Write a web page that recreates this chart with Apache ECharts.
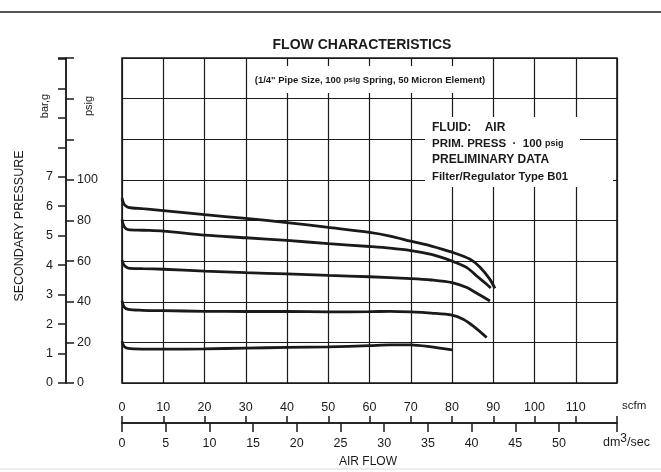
<!DOCTYPE html>
<html><head><meta charset="utf-8">
<script src="https://cdn.jsdelivr.net/npm/echarts@6/dist/echarts.min.js"></script>
<style>html,body{margin:0;padding:0;background:#fff}#c{width:661px;height:472px}</style>
</head><body><div id="c"></div>
<script>
// ---- data (air flow in scfm, secondary pressure in psig) ----
const scfmLabels = [0,10,20,30,40,50,60,70,80,90,100,110];
const dmLabels = [0,5,10,15,20,25,30,35,40,45,50];
const barLabels = [0,1,2,3,4,5,6,7];
const psigLabels = [0,20,40,60,80,100];
const SCFM_TO_DM3S = 0.471947;
const PSI_PER_BAR = 14.5038;

const curve90 = [[0,91],[0.5,88],[1.5,86.5],[5,85.8],[10,84.9],[20,82.9],[30,81],[40,79],[50,76.6],[60,74.1],[65,72.3],[70,69.8],[75,67.4],[80,64.4],[84.4,60.9],[86.8,57],[89.2,51],[90.4,46.6]];
const curve80 = [[0,80.5],[0.5,77],[1.5,75.5],[5,75.2],[10,74.8],[20,72.8],[30,71.5],[40,70.2],[50,68.6],[60,67.2],[65,66.4],[70,65.2],[75,63.3],[80,60],[83.6,56.8],[86,52.7],[88.4,48.6],[89.4,46.8]];
const curve60 = [[0,60.5],[0.5,58],[1.5,56.6],[5,56.3],[10,56],[20,55.1],[30,54.3],[40,53.7],[50,53],[60,52.3],[70,51.4],[75,50.7],[80,49.4],[83.6,47],[86,44.2],[89.2,40.4]];
const curve40 = [[0,40.5],[0.5,37.5],[1.5,36.2],[5,35.8],[10,35.6],[20,35.3],[30,35.2],[40,35.2],[50,35],[60,35.1],[65,35.3],[70,35],[75,34.4],[80,33.4],[82.7,31.4],[85.1,28.1],[88.4,22.4]];
const curve20 = [[0,20.5],[0.5,18],[1.5,17],[5,16.7],[10,16.7],[20,16.8],[30,17.2],[40,17.5],[50,17.8],[60,18.4],[65,18.8],[70,18.8],[75,17.8],[80,16.3]];

const curves = [curve90, curve80, curve60, curve40, curve20];

const INK = '#1a1a1a';
const FONT = '"Liberation Sans", Arial, sans-serif';
const chart = echarts.init(document.getElementById('c'));

const dmMax = 120 * SCFM_TO_DM3S;
const barMax = 160 / PSI_PER_BAR;
const lineStyle = { color: INK, width: 1.5 };

chart.setOption({
  animation: false,
  backgroundColor: '#fff',
  textStyle: { fontFamily: FONT, color: INK },
  grid: { left: 122, right: 44, top: 58, bottom: 89, show: true, borderColor: INK, borderWidth: 1.6, backgroundColor: 'transparent' },
  xAxis: [
    { type: 'value', min: 0, max: 120, interval: 10, position: 'bottom', offset: 40,
      axisLine: { show: true, onZero: false, lineStyle },
      axisTick: { show: true, inside: true, length: 7, lineStyle },
      axisLabel: { show: true, inside: true, margin: 9, fontSize: 12.5, color: INK, fontFamily: FONT,
        customValues: scfmLabels },
      splitLine: { show: true, lineStyle: { color: INK, width: 1.2 } } },
    { type: 'value', min: 0, max: dmMax, position: 'bottom', offset: 40,
      axisLine: { show: true, onZero: false, lineStyle },
      axisTick: { show: true, inside: false, length: 9, lineStyle,
        customValues: dmLabels.concat([dmMax]) },
      axisLabel: { show: true, margin: 14, fontSize: 12.5, color: INK, fontFamily: FONT,
        customValues: dmLabels },
      splitLine: { show: false } }
  ],
  yAxis: [
    { type: 'value', min: 0, max: 160, interval: 20, position: 'left', offset: 56,
      axisLine: { show: true, onZero: false, lineStyle },
      axisTick: { show: true, inside: true, length: 8, lineStyle },
      axisLabel: { show: true, inside: true, margin: 11, fontSize: 12.5, color: INK, fontFamily: FONT,
        formatter: v => psigLabels.includes(v) ? String(v) : '' },
      splitLine: { show: true, lineStyle: { color: INK, width: 1.2 } } },
    { type: 'value', min: 0, max: barMax, interval: 1, position: 'left', offset: 56,
      axisLine: { show: true, onZero: false, lineStyle },
      axisTick: { show: true, inside: false, length: 8, lineStyle },
      axisLabel: { show: true, margin: 13, fontSize: 12.5, color: INK, fontFamily: FONT,
        formatter: v => barLabels.includes(v) ? String(v) : '' },
      splitLine: { show: false } }
  ],
  series: curves.map((d, i) => ({
    type: 'line', xAxisIndex: 0, yAxisIndex: 0, data: d, smooth: 0.3,
    symbol: 'none', lineStyle: { color: INK, width: 2.8 }, z: 5
  })),
  graphic: [
    { type: 'line', shape: { x1: 0, y1: 12, x2: 661, y2: 12 }, style: { stroke: '#555', lineWidth: 2 }, z: 10 },
    { type: 'line', shape: { x1: 0, y1: 469, x2: 661, y2: 469 }, style: { stroke: '#ddd', lineWidth: 1 }, z: 10 },
    { type: 'text', x: 362, y: 45, style: { text: 'FLOW CHARACTERISTICS', font: 'bold 14px ' + FONT, fill: INK, align: 'center', verticalAlign: 'middle' }, z: 20 },
    { type: 'rect', shape: { x: 252, y: 66, width: 240, height: 27 }, style: { fill: '#fff' }, z: 15 },
    { type: 'text', x: 370, y: 80, style: { text: '(1/4" Pipe Size, 100 {s|psig} Spring, 50 Micron Element)', font: 'bold 9.5px ' + FONT, fill: INK, align: 'center', verticalAlign: 'middle',
      rich: { s: { font: 'bold 8px ' + FONT, fill: INK } } }, z: 20 },
    { type: 'rect', shape: { x: 425, y: 117, width: 155, height: 70 }, style: { fill: '#fff' }, z: 15 },
    { type: 'rect', shape: { x: 578, y: 174, width: 35, height: 12 }, style: { fill: '#fff' }, z: 15 },
    { type: 'text', x: 432, y: 128, style: { text: 'FLUID:    AIR', font: 'bold 12px ' + FONT, fill: INK, verticalAlign: 'middle' }, z: 20 },
    { type: 'text', x: 432, y: 144, style: { text: 'PRIM. PRESS  ·  100 {s|psig}', font: 'bold 11.5px ' + FONT, fill: INK, verticalAlign: 'middle',
      rich: { s: { font: 'bold 9px ' + FONT, fill: INK } } }, z: 20 },
    { type: 'text', x: 432, y: 160, style: { text: 'PRELIMINARY DATA', font: 'bold 12px ' + FONT, fill: INK, verticalAlign: 'middle' }, z: 20 },
    { type: 'text', x: 432, y: 177, style: { text: 'Filter/Regulator Type B01', font: 'bold 11.3px ' + FONT, fill: INK, verticalAlign: 'middle' }, z: 20 },
    { type: 'text', x: 20, y: 226, rotation: Math.PI / 2, style: { text: 'SECONDARY PRESSURE', font: '12.5px ' + FONT, fill: INK, align: 'center', verticalAlign: 'middle' }, z: 20 },
    { type: 'text', x: 45, y: 106, rotation: Math.PI / 2, style: { text: 'bar,g', font: '11px ' + FONT, fill: INK, align: 'center', verticalAlign: 'middle' }, z: 20 },
    { type: 'text', x: 89, y: 106, rotation: Math.PI / 2, style: { text: 'psig', font: '11px ' + FONT, fill: INK, align: 'center', verticalAlign: 'middle' }, z: 20 },
    { type: 'text', x: 622, y: 406, style: { text: 'scfm', font: '11.5px ' + FONT, fill: INK, verticalAlign: 'middle' }, z: 20 },
    { type: 'text', x: 603, y: 443, style: { text: 'dm{s|3}/sec', font: '12.5px ' + FONT, fill: INK, verticalAlign: 'middle',
      rich: { s: { font: '12px ' + FONT, fill: INK, verticalAlign: 'top', padding: [0,0,8,0] } } }, z: 20 },
    { type: 'text', x: 368, y: 462, style: { text: 'AIR FLOW', font: '12px ' + FONT, fill: INK, align: 'center', verticalAlign: 'middle' }, z: 20 }
  ]
});
</script></body></html>
